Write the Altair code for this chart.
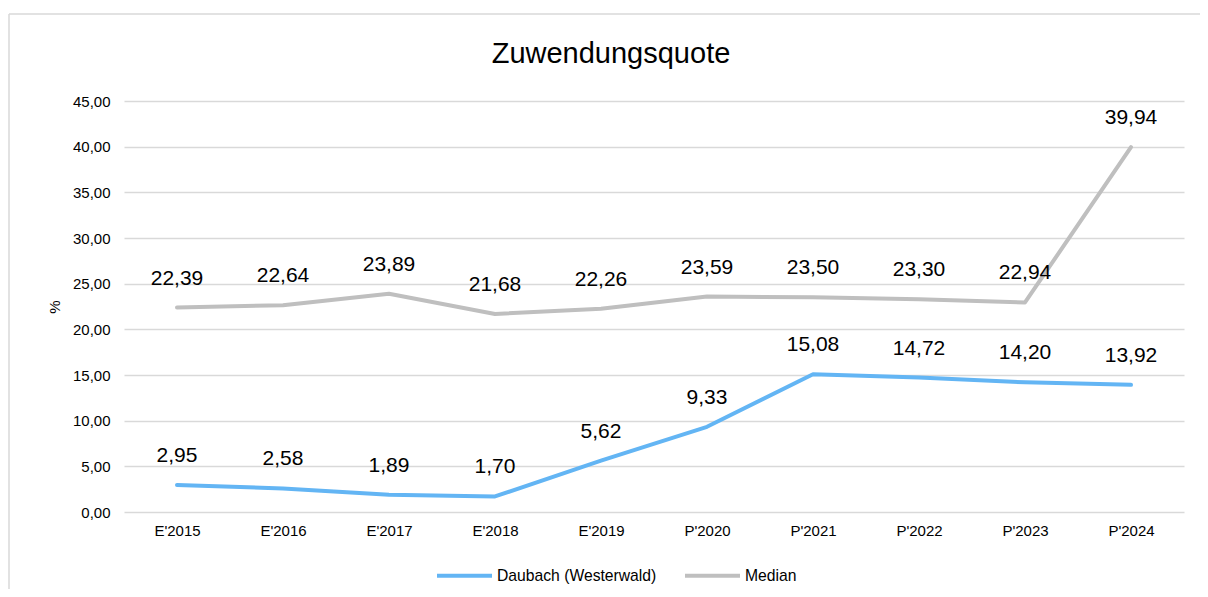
import altair as alt
import pandas as pd

years = ["E'2015", "E'2016", "E'2017", "E'2018", "E'2019", "P'2020", "P'2021", "P'2022", "P'2023", "P'2024"]
daubach = [2.95, 2.58, 1.89, 1.70, 5.62, 9.33, 15.08, 14.72, 14.20, 13.92]
median = [22.39, 22.64, 23.89, 21.68, 22.26, 23.59, 23.50, 23.30, 22.94, 39.94]
series_names = ["Daubach (Westerwald)", "Median"]
colors = ["#63b5f4", "#bfbfbf"]
chart_title = "Zuwendungsquote"

rows = []
for name, vals in zip(series_names, [daubach, median]):
    for y, v in zip(years, vals):
        rows.append({"Jahr": y, "Wert": v, "Reihe": name, "Label": f"{v:.2f}".replace(".", ",")})
df = pd.DataFrame(rows)

FONT = "Liberation Sans"

x = alt.X("Jahr:N", sort=years, title=None,
          axis=alt.Axis(labelAngle=0, ticks=False, domain=False, labelFontSize=15,
                        labelColor="#000000", labelPadding=11, grid=False),
          scale=alt.Scale(paddingInner=0, paddingOuter=0.5))
y = alt.Y("Wert:Q", title="%",
          scale=alt.Scale(domain=[0, 45], nice=False),
          axis=alt.Axis(values=[0, 5, 10, 15, 20, 25, 30, 35, 40, 45],
                        labelExpr="replace(format(datum.value, '.2f'), '.', ',')",
                        ticks=False, domain=False, labelFontSize=15, labelColor="#000000",
                        labelPadding=14, gridColor="#d9d9d9", gridWidth=1.5,
                        titleFontSize=15, titleFontWeight="normal", titleColor="#000000",
                        titlePadding=10))
color = alt.Color("Reihe:N", sort=series_names,
                  scale=alt.Scale(domain=series_names, range=colors),
                  legend=alt.Legend(title=None, orient="none", legendX=311, legendY=445,
                                    direction="horizontal", symbolType="stroke",
                                    symbolStrokeWidth=4, symbolSize=3025, labelFontSize=15.7,
                                    labelColor="#000000", columnPadding=20, labelOffset=3,
                                    labelLimit=400))

border_src = pd.DataFrame({"a": [0]})
border_top = alt.Chart(border_src).mark_rule(stroke="#d9d9d9", strokeWidth=1.5).encode(
    x=alt.value(-115), x2=alt.value(1100), y=alt.value(-87))
border_left = alt.Chart(border_src).mark_rule(stroke="#d9d9d9", strokeWidth=1.5).encode(
    x=alt.value(-115), y=alt.value(-87), y2=alt.value(520))

title = alt.Chart(pd.DataFrame({"t": [chart_title]})).mark_text(
    fontSize=29, color="#000000", baseline="middle", align="center"
).encode(x=alt.value(487), y=alt.value(-47), text="t:N")

lines = alt.Chart(df).mark_line(strokeWidth=4, strokeCap="round", strokeJoin="round").encode(
    x=x, y=y, color=color)

labels = alt.Chart(df).mark_text(fontSize=21, dy=-29, baseline="middle", color="#000000").encode(
    x=alt.X("Jahr:N", sort=years), y="Wert:Q", text="Label:N")

chart = alt.layer(border_top, border_left, title, lines, labels).properties(
    width=1060, height=411,
    autosize=alt.AutoSizeParams(type="none"),
    padding={"left": 116, "top": 93, "right": 16, "bottom": 77},
).configure(font=FONT).configure_view(stroke=None)

chart.save("out.html", embed_options={"renderer": "svg", "actions": False})
